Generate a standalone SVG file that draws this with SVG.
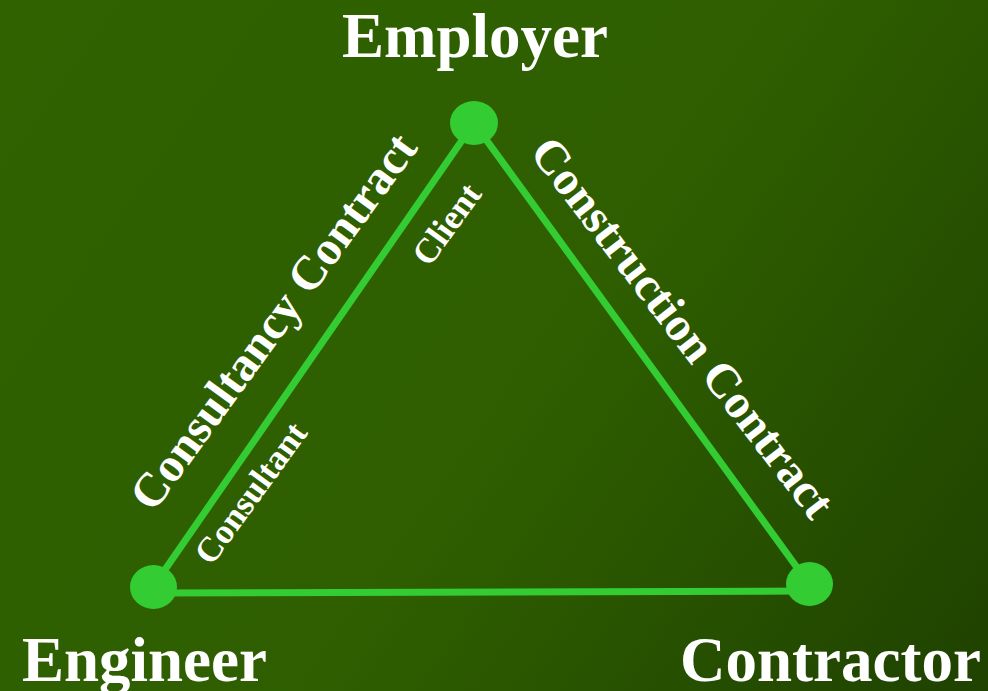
<svg xmlns="http://www.w3.org/2000/svg" width="988" height="691" viewBox="0 0 988 691">
<defs>
<linearGradient id="bg" x1="0" y1="0" x2="988" y2="691" gradientUnits="userSpaceOnUse">
<stop offset="0" stop-color="#306200"/>
<stop offset="0.55" stop-color="#2e5e00"/>
<stop offset="1" stop-color="#1f4200"/>
</linearGradient>
<style>
.edge{stroke:#33cc33;stroke-width:7;fill:none;stroke-linecap:round}
.node{fill:#33cc33}
.big{font-family:"Liberation Serif","Times New Roman",serif;font-weight:bold;fill:#ffffff;font-size:63px}
.lab{font-family:"Liberation Serif","Times New Roman",serif;font-weight:bold;fill:#ffffff;font-size:48px;text-anchor:middle}
.sm{font-family:"Liberation Serif","Times New Roman",serif;font-weight:bold;fill:#ffffff;font-size:35px;text-anchor:middle}
</style>
</defs>
<rect width="988" height="691" fill="url(#bg)"/>
<g id="connectors">
<line class="edge" x1="153" y1="587" x2="474" y2="123"/>
<line class="edge" x1="474" y1="123" x2="809" y2="584"/>
<line class="edge" x1="153" y1="593" x2="809" y2="591"/>
<text class="lab" transform="translate(286,331) rotate(-54)">Consultancy Contract</text>
<text class="lab" transform="translate(670,337) rotate(52.5)">Construction Contract</text>
<text class="sm" transform="translate(456,231) rotate(-54)">Client</text>
<text class="sm" transform="translate(260,500) rotate(-54)">Consultant</text>
</g>
<g id="employer">
<ellipse class="node" cx="474" cy="123" rx="24" ry="22"/>
<text class="big" x="475" y="57" text-anchor="middle">Employer</text>
</g>
<g id="engineer">
<ellipse class="node" cx="153.5" cy="587" rx="23.5" ry="22"/>
<text class="big" x="22" y="681">Engineer</text>
</g>
<g id="contractor">
<ellipse class="node" cx="809.5" cy="584" rx="23.5" ry="22"/>
<text class="big" x="680" y="681">Contractor</text>
</g>
</svg>
